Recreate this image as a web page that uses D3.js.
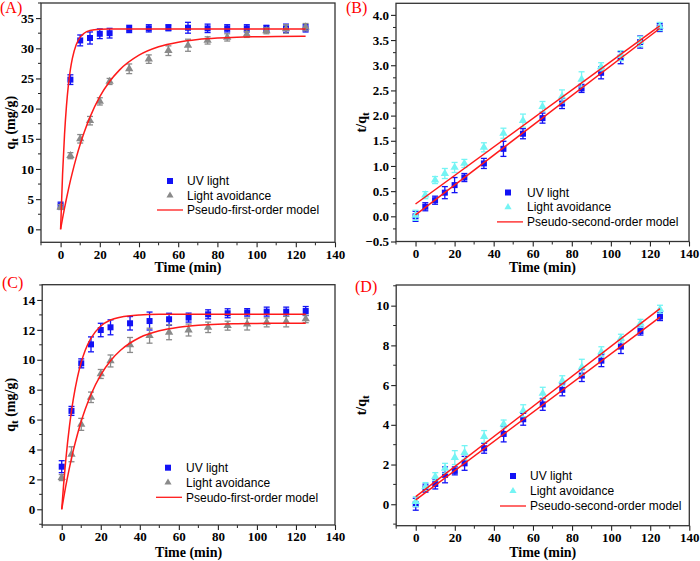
<!DOCTYPE html>
<html>
<head>
<meta charset="utf-8">
<script src="https://cdn.jsdelivr.net/npm/d3@7"></script>
<style>
  html, body { margin: 0; padding: 0; background: #fff; }
  svg { display: block; }
  .tick text { font-family: "Liberation Serif", "Times New Roman", serif; font-weight: bold; font-size: 13px; fill: #000; }
</style>
</head>
<body>
<svg id="chart" width="700" height="561"></svg>
<script>
// ---------------- DATA ----------------
const times = [0, 5, 10, 15, 20, 25, 35, 45, 55, 65, 75, 85, 95, 105, 115, 125];

// (A) qt (mg/g)
const aUV      = [3.9, 24.8, 31.3, 31.7, 32.4, 32.5, 33.2, 33.3, 33.4, 33.4, 33.3, 33.3, 33.3, 33.3, 33.3, 33.3];
const aUVErr   = [0.6, 0.8, 0.9, 1.0, 0.8, 0.8, 0.6, 0.6, 0.5, 0.9, 0.7, 0.6, 0.6, 0.5, 0.7, 0.6];
const aDark    = [3.7, 12.2, 15.0, 18.0, 21.2, 24.5, 26.6, 28.2, 29.6, 30.5, 31.3, 31.8, 32.3, 32.9, 33.2, 33.5];
const aDarkErr = [0.4, 0.5, 0.7, 0.7, 0.6, 0.5, 0.8, 0.7, 0.8, 1.0, 0.6, 0.6, 0.5, 0.5, 0.7, 0.6];

// fitted pseudo-first-order curves
const fitT      = [0, 1, 2, 3, 4, 5, 6, 8, 10, 12, 15, 20, 25, 30, 40, 50, 60, 70, 80, 90, 100, 110, 125];
const aUVFit    = [0, 9.09, 15.69, 20.49, 23.97, 26.50, 28.33, 30.63, 31.85, 32.49, 32.93, 33.14, 33.19, 33.2, 33.2, 33.2, 33.2, 33.2, 33.2, 33.2, 33.2, 33.2, 33.2];
const aDarkFit  = [0, 1.80, 3.51, 5.11, 6.63, 8.06, 9.40, 11.88, 14.08, 16.04, 18.59, 21.97, 24.49, 26.38, 28.85, 30.24, 31.01, 31.45, 31.69, 31.83, 31.90, 31.95, 31.98];

// (B) t/qt
const bUV      = [0.0, 0.19, 0.32, 0.47, 0.62, 0.77, 1.05, 1.34, 1.64, 1.95, 2.24, 2.54, 2.85, 3.15, 3.46, 3.75];
const bUVErr   = [0.10, 0.08, 0.08, 0.12, 0.15, 0.08, 0.10, 0.15, 0.10, 0.10, 0.10, 0.08, 0.12, 0.12, 0.12, 0.08];
const bDark    = [0.02, 0.42, 0.72, 0.85, 0.97, 1.05, 1.37, 1.65, 1.90, 2.18, 2.38, 2.72, 2.97, 3.19, 3.47, 3.77];
const bDarkErr = [0.10, 0.07, 0.07, 0.10, 0.10, 0.08, 0.09, 0.10, 0.13, 0.10, 0.13, 0.15, 0.08, 0.10, 0.10, 0.08];
const lineT    = [0, 125];
const bUVFit   = [0.03, 3.73];
const bDarkFit = [0.245, 3.78];

// (C) qt (mg/g)
const cUV      = [2.85, 6.58, 9.76, 11.03, 11.99, 12.17, 12.44, 12.59, 12.71, 12.82, 13.04, 13.11, 13.17, 13.22, 13.22, 13.26];
const cUVErr   = [0.40, 0.30, 0.30, 0.50, 0.45, 0.50, 0.45, 0.60, 0.40, 0.30, 0.30, 0.30, 0.25, 0.30, 0.30, 0.30];
const cDark    = [2.12, 3.68, 5.68, 7.49, 9.05, 9.92, 10.99, 11.61, 11.84, 11.99, 12.17, 12.28, 12.39, 12.50, 12.55, 12.73];
const cDarkErr = [0.20, 0.50, 0.40, 0.35, 0.30, 0.40, 0.50, 0.50, 0.50, 0.40, 0.35, 0.30, 0.40, 0.30, 0.35, 0.25];
const cUVFit   = [0, 1.70, 3.19, 4.48, 5.60, 6.57, 7.42, 8.79, 9.83, 10.62, 11.45, 12.26, 12.66, 12.85, 13.00, 13.04, 13.05, 13.05, 13.05, 13.05, 13.05, 13.05, 13.05];
const cDarkFit = [0, 0.77, 1.50, 2.17, 2.81, 3.41, 3.97, 4.99, 5.89, 6.67, 7.68, 8.99, 9.94, 10.62, 11.49, 11.94, 12.18, 12.31, 12.38, 12.41, 12.43, 12.44, 12.45];

// (D) t/qt
const dUV      = [0.0, 0.81, 1.02, 1.48, 1.68, 2.06, 2.82, 3.54, 4.28, 5.03, 5.76, 6.48, 7.23, 7.94, 8.72, 9.45];
const dUVErr   = [0.30, 0.20, 0.25, 0.40, 0.20, 0.35, 0.25, 0.40, 0.30, 0.30, 0.30, 0.30, 0.30, 0.35, 0.20, 0.20];
const dDark    = [0.13, 0.89, 1.39, 1.81, 2.35, 2.60, 3.41, 4.04, 4.71, 5.59, 6.22, 6.90, 7.68, 8.36, 9.11, 9.82];
const dDarkErr = [0.25, 0.20, 0.20, 0.25, 0.35, 0.35, 0.30, 0.20, 0.30, 0.30, 0.25, 0.40, 0.25, 0.20, 0.20, 0.20];
const dUVFit   = [0.22, 9.42];
const dDarkFit = [0.38, 9.85];

const xTicks = [0, 20, 40, 60, 80, 100, 120, 140];
const legendLabels1 = ["UV light", "Light avoidance", "Pseudo-first-order model"];
const legendLabels2 = ["UV light", "Light avoidance", "Pseudo-second-order model"];
const panelLetters = ["(A)", "(B)", "(C)", "(D)"];

// ---------------- STYLE ----------------
const BLUE = "#1212f5", GRAY = "#8a8a8a", CYAN = "#74f4f4", RED = "#ff1a1a";

const panels = [
  { letter: panelLetters[0], box: [41, 335, 3, 242.3], yDom: [-2.15, 37.5], yTicks: d3.range(0, 36, 5), yMinor: d3.range(-2.5, 37.6, 2.5), yFmt: d3.format("d"),
    yTitle: "q", ySub: "t", yUnit: " (mg/g)", titleX: 15, xTitleY: 272,
    s1: aUV, e1: aUVErr, s2: aDark, e2: aDarkErr, c2: GRAY, fitX: fitT, f1: aUVFit, f2: aDarkFit, smooth: true,
    legend: legendLabels1, leg: { sx: 170, tx: 187, y: 181, dy: 14.5, lx0: 157, lx1: 183 }, letterPos: [0, 13] },
  { letter: panelLetters[1], box: [396, 689, 3.3, 241.5], yDom: [-0.5, 4.23], yTicks: d3.range(-0.5, 4.01, 0.5), yMinor: d3.range(-0.5, 4.26, 0.25), yFmt: d3.format(".1f"),
    yTitle: "t/q", ySub: "t", yUnit: "", titleX: 366, xTitleY: 272,
    s1: bUV, e1: bUVErr, s2: bDark, e2: bDarkErr, c2: CYAN, fitX: lineT, f1: bUVFit, f2: bDarkFit, smooth: false,
    legend: legendLabels2, leg: { sx: 508, tx: 527, y: 192.5, dy: 14.7, lx0: 497, lx1: 523 }, letterPos: [346, 13] },
  { letter: panelLetters[2], box: [42.2, 335, 284.7, 525], yDom: [-1.05, 15.02], yTicks: d3.range(0, 15, 2), yMinor: d3.range(-1, 15.1, 1), yFmt: d3.format("d"),
    yTitle: "q", ySub: "t", yUnit: " (mg/g)", titleX: 15, xTitleY: 557,
    s1: cUV, e1: cUVErr, s2: cDark, e2: cDarkErr, c2: GRAY, fitX: fitT, f1: cUVFit, f2: cDarkFit, smooth: true,
    legend: legendLabels1, leg: { sx: 168, tx: 186, y: 467.7, dy: 14.8, lx0: 156, lx1: 182 }, letterPos: [2, 288] },
  { letter: panelLetters[3], box: [396.2, 689.3, 285, 525.7], yDom: [-1.08, 11.04], yTicks: d3.range(0, 11, 2), yMinor: d3.range(-1, 11.1, 1), yFmt: d3.format("d"),
    yTitle: "t/q", ySub: "t", yUnit: "", titleX: 366, xTitleY: 557,
    s1: dUV, e1: dUVErr, s2: dDark, e2: dDarkErr, c2: CYAN, fitX: lineT, f1: dUVFit, f2: dDarkFit, smooth: false,
    legend: legendLabels2, leg: { sx: 513, tx: 530, y: 476, dy: 15, lx0: 500, lx1: 526 }, letterPos: [355, 292] }
];

const svg = d3.select("#chart");
const SERIF = "'Liberation Serif', 'Times New Roman', serif";
const SANS = "'Liberation Sans', Arial, sans-serif";

const triPath = d3.symbol().type(d3.symbolTriangle).size(30)();

panels.forEach(p => {
  const [L, R, T, B] = p.box;
  const x = d3.scaleLinear().domain([-10, 140]).range([L, R]);
  const y = d3.scaleLinear().domain(p.yDom).range([B, T]);
  const g = svg.append("g");

  // minor ticks
  const minorX = d3.range(-10, 141, 10).filter(v => v % 20 !== 0);
  g.append("g").selectAll("line").data(minorX).join("line")
    .attr("x1", d => x(d)).attr("x2", d => x(d)).attr("y1", B).attr("y2", B + 3)
    .attr("stroke", "#222").attr("stroke-width", 1);
  const majorSet = new Set(p.yTicks.map(v => v.toFixed(3)));
  const minorY = p.yMinor.filter(v => !majorSet.has(v.toFixed(3)) && y(v) >= T - 0.5 && y(v) <= B + 0.5);
  g.append("g").selectAll("line").data(minorY).join("line")
    .attr("x1", L - 3).attr("x2", L).attr("y1", d => y(d)).attr("y2", d => y(d))
    .attr("stroke", "#222").attr("stroke-width", 1);

  // axes
  const xa = g.append("g").attr("transform", `translate(0,${B})`)
    .call(d3.axisBottom(x).tickValues(xTicks).tickSize(5).tickSizeOuter(0).tickPadding(2).tickFormat(d3.format("d")));
  const ya = g.append("g").attr("transform", `translate(${L},0)`)
    .call(d3.axisLeft(y).tickValues(p.yTicks).tickSize(5).tickSizeOuter(0).tickPadding(2).tickFormat(p.yFmt));
  [xa, ya].forEach(a => {
    a.select(".domain").remove();
    a.selectAll(".tick line").attr("stroke", "#222").attr("stroke-width", 1.1);
  });

  // frame
  g.append("rect").attr("x", L).attr("y", T).attr("width", R - L).attr("height", B - T)
    .attr("fill", "none").attr("stroke", "#333").attr("stroke-width", 1.3);

  // axis titles
  g.append("text").attr("x", (L + R) / 2).attr("y", p.xTitleY)
    .attr("text-anchor", "middle").attr("font-family", SERIF).attr("font-weight", "bold").attr("font-size", 14)
    .text("Time (min)");
  const yt = g.append("text")
    .attr("transform", `translate(${p.titleX},${(T + B) / 2}) rotate(-90)`)
    .attr("text-anchor", "middle").attr("font-family", SERIF).attr("font-weight", "bold").attr("font-size", 14);
  yt.append("tspan").text(p.yTitle);
  yt.append("tspan").attr("dy", 3).attr("font-size", 11).text(p.ySub);
  if (p.yUnit) yt.append("tspan").attr("dy", -3).text(p.yUnit);

  // data series with error bars
  const drawSeries = (vals, errs, color, shape) => {
    const sg = g.append("g");
    times.forEach((t, i) => {
      const cx = x(t), cy = y(vals[i]);
      const y0 = y(vals[i] - errs[i]), y1 = y(vals[i] + errs[i]);
      sg.append("line").attr("x1", cx).attr("x2", cx).attr("y1", y0).attr("y2", y1).attr("stroke", color).attr("stroke-width", 1.3);
      sg.append("line").attr("x1", cx - 3).attr("x2", cx + 3).attr("y1", y0).attr("y2", y0).attr("stroke", color).attr("stroke-width", 1.3);
      sg.append("line").attr("x1", cx - 3).attr("x2", cx + 3).attr("y1", y1).attr("y2", y1).attr("stroke", color).attr("stroke-width", 1.3);
      if (shape === "square") {
        sg.append("rect").attr("x", cx - 3).attr("y", cy - 3).attr("width", 6).attr("height", 6).attr("fill", color);
      } else {
        sg.append("path").attr("d", triPath).attr("transform", `translate(${cx},${cy})`).attr("fill", color);
      }
    });
  };
  drawSeries(p.s1, p.e1, BLUE, "square");
  drawSeries(p.s2, p.e2, p.c2, "tri");

  // fits
  const line = d3.line().x((d, i) => x(p.fitX[i])).y(d => y(d)).curve(p.smooth ? d3.curveMonotoneX : d3.curveLinear);
  [p.f1, p.f2].forEach(f => {
    g.append("path").attr("d", line(f)).attr("fill", "none").attr("stroke", RED).attr("stroke-width", 1.5);
  });

  // legend
  const lg = g.append("g").attr("font-family", SANS).attr("font-size", 12);
  const ly = [p.leg.y, p.leg.y + p.leg.dy, p.leg.y + 2 * p.leg.dy];
  lg.append("rect").attr("x", p.leg.sx - 3).attr("y", ly[0] - 3).attr("width", 6).attr("height", 6).attr("fill", BLUE);
  lg.append("path").attr("d", d3.symbol().type(d3.symbolTriangle).size(22)()).attr("transform", `translate(${p.leg.sx},${ly[1]})`).attr("fill", p.c2);
  lg.append("line").attr("x1", p.leg.lx0).attr("x2", p.leg.lx1).attr("y1", ly[2]).attr("y2", ly[2]).attr("stroke", RED).attr("stroke-width", 1.3);
  p.legend.forEach((t, i) => {
    lg.append("text").attr("x", p.leg.tx).attr("y", ly[i]).attr("dy", "0.35em").text(t);
  });

  // panel letter
  svg.append("text").attr("x", p.letterPos[0]).attr("y", p.letterPos[1])
    .attr("font-family", SERIF).attr("font-size", 16).attr("fill", "#ff0000").text(p.letter);
});
</script>
</body>
</html>
